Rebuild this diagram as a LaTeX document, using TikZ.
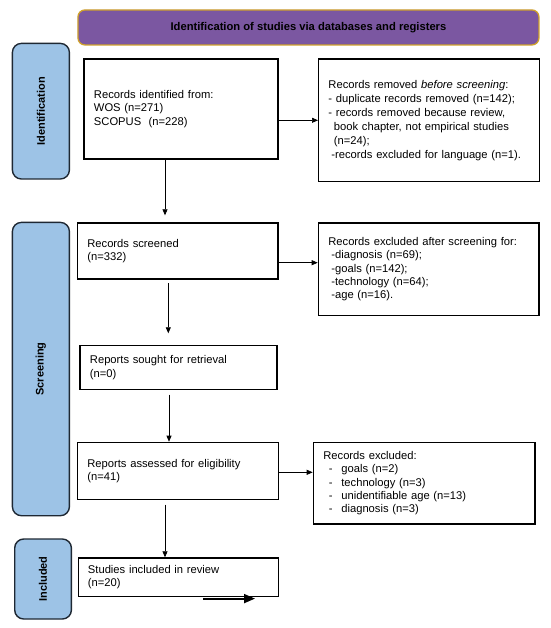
\documentclass[tikz,border=0pt]{standalone}
\usepackage{fontspec}
\setmainfont{Liberation Sans}
\usepackage{tikz}
\usetikzlibrary{arrows.meta,positioning}
\definecolor{prpurple}{HTML}{7B57A1}
\definecolor{prgold}{HTML}{CFA12B}
\definecolor{prblue}{HTML}{9DC3E6}
\definecolor{prnavy}{HTML}{1E2833}

\begin{document}
\begin{tikzpicture}[x=1pt,y=1pt,
  rec/.style={draw=black,line width=1.3pt,anchor=north west,align=left,
    inner xsep=10pt,inner ysep=0pt,font=\fontsize{11.2}{13.5}\selectfont},
  phase/.style={draw=prnavy,line width=1.4pt,fill=prblue,rounded corners=9pt,
    anchor=north west,inner sep=0pt,minimum width=57pt},
  lbl/.style={rotate=90,font=\fontsize{11}{13}\selectfont\bfseries},
  arr/.style={-{Triangle[length=6pt,width=5pt]},line width=0.7pt}]
  \useasboundingbox (0,0) rectangle (550,-628);
  \node[draw=prgold,fill=prpurple,line width=1.3pt,rounded corners=7pt,anchor=north west,
    minimum width=461pt,minimum height=35pt,inner sep=0pt,
    font=\fontsize{11.2}{13}\selectfont\bfseries] (head) at (77.3,-9.3)
    {Identification of studies via databases and registers};
  \node[phase,minimum height=135.6pt] (idph) at (11.7,-42.7) {};
  \node[lbl] (idlbl) at (idph.center) {Identification};
  \node[phase,minimum height=293.3pt] (scph) at (11.7,-221.7) {};
  \node[lbl] (sclbl) at (scph.center) {Screening};
  \node[phase,minimum width=56.7pt,minimum height=80pt] (inph) at (14,-538.3) {};
  \node[lbl] (inlbl) at (inph.center) {Included};

  \node[rec,text width=174pt,minimum height=100pt] (ident) at (83.3,-58.3)
    {Records identified from:\\WOS (n=271)\\SCOPUS\ \ (n=228)};
  \node[rec,text width=201pt,minimum height=122.7pt,inner xsep=9.8pt,
    font=\fontsize{11.2}{14}\selectfont,
    right=39.4pt of ident.north east,anchor=north west] (removed)
    {Records removed \textit{before screening}:\\
     - duplicate records removed (n=142);\\
     - records removed because review,\\
     \hspace*{5.5pt}book chapter, not empirical studies\\
     \hspace*{5.5pt}(n=24);\\
     \hspace*{3pt}-records excluded for language (n=1).};
  \node[rec,text width=180.6pt,minimum height=56pt] (screened) at (76.7,-222.3)
    {Records screened\\(n=332)};
  \node[rec,text width=200.6pt,minimum height=92.7pt,font=\fontsize{11.2}{13.2}\selectfont]
    (scrx) at (317.7,-222.3)
    {Records excluded after screening for:\\
     \hspace*{3pt}-diagnosis (n=69);\\
     \hspace*{3pt}-goals (n=142);\\
     \hspace*{3pt}-technology (n=64);\\
     \hspace*{3pt}-age (n=16).};
  \node[rec,text width=177pt,minimum height=44pt] (sought) at (79.3,-345)
    {Reports sought for retrieval\\(n=0)};
  \node[rec,text width=181pt,minimum height=57.3pt] (assessed) at (76.7,-441.7)
    {Reports assessed for eligibility\\(n=41)};
  \node[rec,text width=201.6pt,minimum height=81.6pt,font=\fontsize{11.2}{13.3}\selectfont]
    (elgx) at (312.7,-441.7)
    {Records excluded:\\
     \hspace*{5.6pt}\makebox[12.4pt][l]{-}goals (n=2)\\
     \hspace*{5.6pt}\makebox[12.4pt][l]{-}technology (n=3)\\
     \hspace*{5.6pt}\makebox[12.4pt][l]{-}unidentifiable age (n=13)\\
     \hspace*{5.6pt}\makebox[12.4pt][l]{-}diagnosis (n=3)};
  \node[rec,text width=180.8pt,minimum height=38.7pt,inner xsep=9.6pt] (incl) at (77.7,-557.3)
    {Studies included in review\\(n=20)};
  \coordinate (strayA) at ([xshift=125.6pt,yshift=-1.3pt]incl.south west);
  \coordinate (strayB) at ([xshift=177.3pt,yshift=-1.3pt]incl.south west);

  \draw[arr] (ident.east |- removed.west) -- (removed.west);
  \draw[arr,shorten >=7pt] ([xshift=81.7pt]ident.south west) -- ([xshift=88.3pt]screened.north west);
  \draw[arr] (screened.east |- 0,-262.7) -- (scrx.west |- 0,-262.7);
  \draw[arr,shorten <=3.4pt,shorten >=11.7pt] ([xshift=91.6pt]screened.south west) -- ([xshift=89pt]sought.north west);
  \draw[arr,shorten <=4.3pt] ([xshift=89.7pt]sought.south west) -- ([xshift=92.3pt]assessed.north west);
  \draw[arr] (assessed.east |- 0,-472.3) -- (elgx.west |- 0,-472.3);
  \draw[arr,shorten <=4.3pt] ([xshift=88.3pt]assessed.south west) -- ([xshift=87.3pt]incl.north west);
  \draw[-{Triangle[length=11pt,width=9pt]},line width=1.8pt] (strayA) -- (strayB);
\end{tikzpicture}
\end{document}
